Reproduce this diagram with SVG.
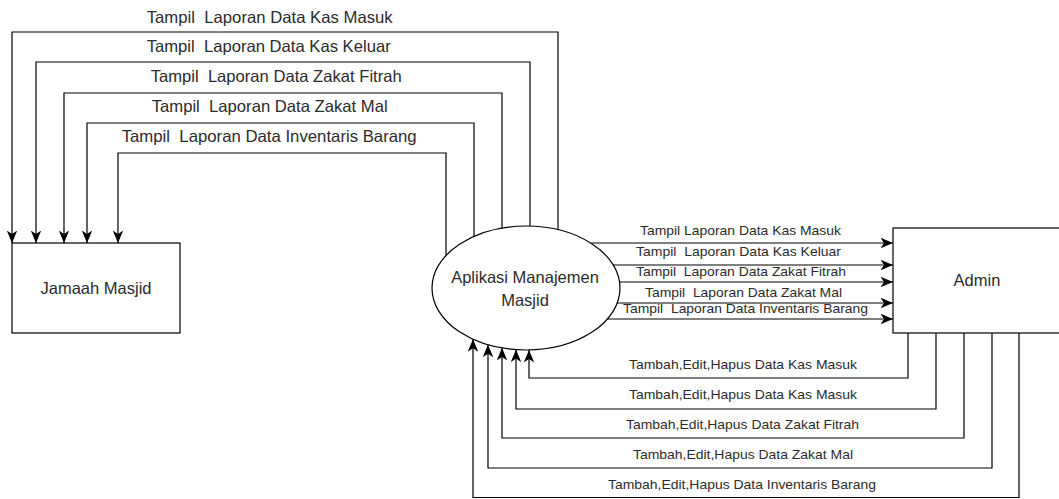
<svg xmlns="http://www.w3.org/2000/svg" width="1059" height="499" viewBox="0 0 1059 499">
<style>
.bg{fill:#ffffff}
.node{fill:#ffffff;stroke:#000000;stroke-width:1.2}
.conn{fill:none;stroke:#000000;stroke-width:1.2}
.arr{marker-end:url(#arrow)}
text{font-family:"Liberation Sans",Arial,Helvetica,sans-serif;fill:#2b2b2b;white-space:pre}
.big{font-size:16.5px}
.small{font-size:13.5px}
.mid{text-anchor:middle}
</style>
<defs>
<marker id="arrow" markerUnits="userSpaceOnUse" viewBox="0 0 12.5 10.5" refX="12.5" refY="5.25" markerWidth="12.5" markerHeight="10.5" orient="auto">
<path d="M0,0 L12.5,5.25 L0,10.5 L3.5,5.25 Z" fill="#000000"/>
</marker>
</defs>
<rect class="bg" x="0" y="0" width="1059" height="499"/>

<g id="connectors">
<path class="conn arr" d="M558,229.7 V32 H12 V243"/>
<path class="conn arr" d="M530,226.1 V62 H36 V243"/>
<path class="conn arr" d="M502,228.1 V93 H64 V243"/>
<path class="conn arr" d="M474,236.4 V123 H87 V243"/>
<path class="conn arr" d="M446,255.4 V153 H118 V243"/>

<path class="conn arr" d="M591,243 H893"/>
<path class="conn arr" d="M613,265 H893"/>
<path class="conn arr" d="M620,282 H893"/>
<path class="conn arr" d="M617,303 H893"/>
<path class="conn arr" d="M607,319 H893"/>

<path class="conn arr" d="M908,333 V378 H529 V350"/>
<path class="conn arr" d="M936,333 V409 H516 V349.6"/>
<path class="conn arr" d="M964,333 V438 H502 V347.9"/>
<path class="conn arr" d="M992,333 V468 H488 V344.7"/>
<path class="conn arr" d="M1019,333 V497.5 H473 V339.2"/>

<g id="connector-labels">
<text class="big" x="146.7" y="23" textLength="246" lengthAdjust="spacingAndGlyphs" xml:space="preserve">Tampil  Laporan Data Kas Masuk</text>
<text class="big" x="146.7" y="52" textLength="244" lengthAdjust="spacingAndGlyphs" xml:space="preserve">Tampil  Laporan Data Kas Keluar</text>
<text class="big" x="150.7" y="82" textLength="251" lengthAdjust="spacingAndGlyphs" xml:space="preserve">Tampil  Laporan Data Zakat Fitrah</text>
<text class="big" x="151.7" y="112" textLength="236" lengthAdjust="spacingAndGlyphs" xml:space="preserve">Tampil  Laporan Data Zakat Mal</text>
<text class="big" x="121.7" y="142" textLength="295" lengthAdjust="spacingAndGlyphs" xml:space="preserve">Tampil  Laporan Data Inventaris Barang</text>

<text class="small" x="640" y="235" textLength="201" lengthAdjust="spacingAndGlyphs" xml:space="preserve">Tampil Laporan Data Kas Masuk</text>
<text class="small" x="636" y="256" textLength="205" lengthAdjust="spacingAndGlyphs" xml:space="preserve">Tampil  Laporan Data Kas Keluar</text>
<text class="small" x="636" y="276" textLength="210" lengthAdjust="spacingAndGlyphs" xml:space="preserve">Tampil  Laporan Data Zakat Fitrah</text>
<text class="small" x="645" y="297" textLength="197" lengthAdjust="spacingAndGlyphs" xml:space="preserve">Tampil  Laporan Data Zakat Mal</text>
<text class="small" x="623" y="313" textLength="245" lengthAdjust="spacingAndGlyphs" xml:space="preserve">Tampil  Laporan Data Inventaris Barang</text>

<text class="small" x="629" y="369" textLength="228" lengthAdjust="spacingAndGlyphs">Tambah,Edit,Hapus Data Kas Masuk</text>
<text class="small" x="629" y="399" textLength="228" lengthAdjust="spacingAndGlyphs">Tambah,Edit,Hapus Data Kas Masuk</text>
<text class="small" x="626" y="429" textLength="233" lengthAdjust="spacingAndGlyphs">Tambah,Edit,Hapus Data Zakat Fitrah</text>
<text class="small" x="633" y="459" textLength="220" lengthAdjust="spacingAndGlyphs">Tambah,Edit,Hapus Data Zakat Mal</text>
<text class="small" x="608" y="489" textLength="268" lengthAdjust="spacingAndGlyphs">Tambah,Edit,Hapus Data Inventaris Barang</text>
</g>
</g>

<g id="jamaah-masjid">
<rect class="node" x="12" y="243" width="168" height="90"/>
<text class="big mid" x="96" y="294">Jamaah Masjid</text>
</g>

<g id="aplikasi-manajemen-masjid">
<ellipse class="node" cx="526" cy="288" rx="94" ry="62"/>
<text class="big mid" x="525" y="283">Aplikasi Manajemen</text>
<text class="big mid" x="525" y="306">Masjid</text>
</g>

<g id="admin">
<rect class="node" x="893" y="228" width="167" height="105"/>
<text class="big mid" x="977" y="286">Admin</text>
</g>
</svg>
